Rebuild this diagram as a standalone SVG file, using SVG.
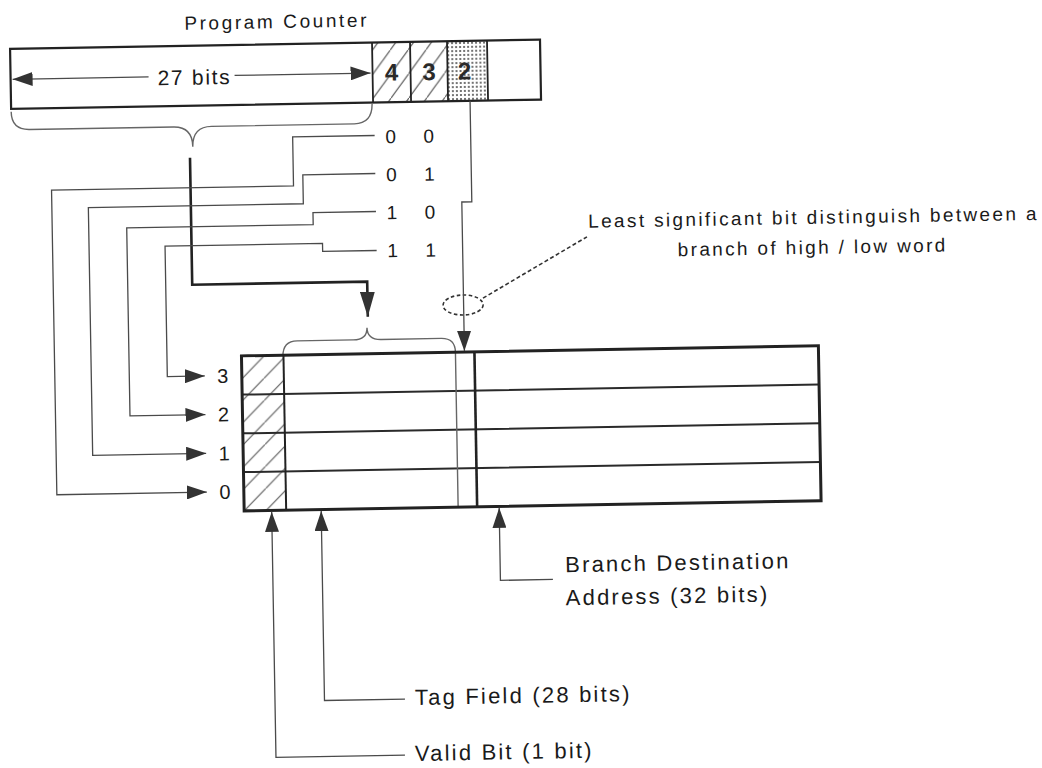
<svg xmlns="http://www.w3.org/2000/svg" width="1042" height="768" viewBox="0 0 1042 768">
<style>
  text{font-family:"Liberation Sans",Arial,Helvetica,sans-serif;fill:#1a1a1a}
  .lbl{font-size:22px;letter-spacing:2.2px}
  .digit{font-size:19px;text-anchor:middle}
  .row{font-size:20px;text-anchor:middle}
  .cellnum{font-size:24px;text-anchor:middle;font-weight:bold;fill:#2a2a2a}
  .thin{fill:none;stroke:#4a4a4a;stroke-width:1.3}
  .brace{fill:none;stroke:#666;stroke-width:1.4}
  .thick{fill:none;stroke:#222;stroke-width:2.6}
  .box{fill:none;stroke:#222;stroke-width:2.2}
  .tbl{fill:none;stroke:#222;stroke-width:3}
  .rowline{stroke:#2a2a2a;stroke-width:2}
</style>
<defs>
  <marker id="ah" markerUnits="userSpaceOnUse" markerWidth="20" markerHeight="14" refX="20" refY="7" orient="auto" viewBox="0 0 20 14">
    <path d="M0,0 L20,7 L0,14 z" fill="#333"/>
  </marker>
  <marker id="ahBig" markerUnits="userSpaceOnUse" markerWidth="25" markerHeight="15" refX="25" refY="7.5" orient="auto" viewBox="0 0 25 15">
    <path d="M0,0 L25,7.5 L0,15 z" fill="#333"/>
  </marker>
  <pattern id="hatchPC" patternUnits="userSpaceOnUse" width="18" height="24">
    <path d="M-1,25.33 L19,-1.33" stroke="#555" stroke-width="1.1"/>
  </pattern>
  <pattern id="hatchT" patternUnits="userSpaceOnUse" width="22" height="22">
    <path d="M-1,23 L23,-1" stroke="#555" stroke-width="1.1"/>
  </pattern>
  <pattern id="dots" patternUnits="userSpaceOnUse" width="4" height="4">
    <rect width="4" height="4" fill="#fff"/>
    <circle cx="2" cy="2" r="1" fill="#444"/>
  </pattern>
</defs>
<rect width="1042" height="768" fill="#fff"/>
<g transform="rotate(-1 521 384)">

  <g id="program-counter">
    <text x="283" y="24" style="font-size:19px;letter-spacing:2.6px" text-anchor="middle">Program Counter</text>
    <rect x="16" y="40" width="530" height="60" fill="#fff"/>
    <rect x="378" y="40" width="38" height="60" fill="url(#hatchPC)"/>
    <rect x="416" y="40" width="37" height="60" fill="url(#hatchPC)"/>
    <rect x="453" y="40" width="40" height="60" fill="url(#dots)"/>
    <rect class="box" x="16" y="40" width="530" height="60"/>
    <path d="M378,40 V100 M416,40 V100 M453,40 V100 M493,40 V100" stroke="#222" stroke-width="1.8"/>
    <text class="cellnum" x="397" y="78.5">4</text>
    <text class="cellnum" x="434.5" y="78.5">3</text>
    <text class="cellnum" x="470" y="78.5">2</text>
    <text x="163" y="79" style="font-size:21px;letter-spacing:1.7px">27 bits</text>
    <path class="thin" d="M154,70.5 H18" marker-end="url(#ah)"/>
    <path class="thin" d="M240,70.5 H376" marker-end="url(#ah)"/>
    <path class="brace" d="M16,103 Q16,121 34,121 L178,121 Q197,121 197,141 Q197,121 216,121 L359,121 Q377,121 377,101"/>
  </g>

  <g id="index-decoder">
    <text class="digit" x="395" y="141">0</text><text class="digit" x="433" y="141">0</text>
    <text class="digit" x="395" y="179">0</text><text class="digit" x="433" y="179">1</text>
    <text class="digit" x="395" y="217">1</text><text class="digit" x="433" y="217">0</text>
    <text class="digit" x="395" y="255">1</text><text class="digit" x="433" y="255">1</text>
  </g>

  <g id="btb-table">
    <rect x="242" y="351" width="577" height="155" fill="#fff"/>
    <rect x="242" y="351" width="42" height="155" fill="url(#hatchT)"/>
    <path class="rowline" d="M242,389.75 H819 M242,428.5 H819 M242,467.25 H819"/>
    <path d="M284,351 V506" stroke="#222" stroke-width="2"/>
    <path d="M475,351 V506" stroke="#222" stroke-width="2.6"/>
    <path class="brace" d="M283.5,352 Q283.5,337 298,337 L354,337 Q368,337 368,325 Q368,337 382,337 L442,337 Q456,337 456,351 L456,506"/>
    <rect class="tbl" x="242" y="351" width="577" height="155"/>
    <text class="row" x="223" y="377.6">3</text>
    <text class="row" x="223" y="416.3">2</text>
    <text class="row" x="223" y="455.1">1</text>
    <text class="row" x="223" y="493.8">0</text>
  </g>

  <g id="lsb-note">
    <ellipse cx="464.5" cy="304" rx="20" ry="10" fill="none" stroke="#333" stroke-width="1.6" stroke-dasharray="3.5 2.5"/>
    <path d="M484.5,297.5 L589.5,238" fill="none" stroke="#333" stroke-width="1.6" stroke-dasharray="4 2.5"/>
    <text x="591" y="229" style="font-size:19px;letter-spacing:2.35px">Least significant bit distinguish between a</text>
    <text x="815" y="259" text-anchor="middle" style="font-size:19px;letter-spacing:2.35px">branch of high / low word</text>
  </g>

  <g id="label-branch">
    <text class="lbl" x="562" y="573">Branch Destination</text>
    <text class="lbl" x="562" y="606">Address (32 bits)</text>
  </g>
  <g id="label-tag">
    <text class="lbl" x="409.5" y="703">Tag Field (28 bits)</text>
  </g>
  <g id="label-valid">
    <text class="lbl" x="408.5" y="759">Valid Bit (1 bit)</text>
  </g>

  <g id="connectors">
    <path class="thick" d="M194,152 V279 H369 V314" marker-end="url(#ahBig)"/>
    <path class="thin" d="M379,133 H297 V182 H55 V486.6 H205" marker-end="url(#ah)"/>
    <path class="thin" d="M379,171 H306.5 V200 H91.5 V447.9 H205" marker-end="url(#ah)"/>
    <path class="thin" d="M379,209 H316 V221 H129.5 V409.1 H205" marker-end="url(#ah)"/>
    <path class="thin" d="M379,248 H325 V240 H167.5 V370.4 H205" marker-end="url(#ah)"/>
    <path class="thin" d="M475,100 V201 H465 V350" marker-end="url(#ah)"/>
    <path class="thin" d="M549.5,580 H497 V507.5" marker-end="url(#ah)"/>
    <path class="thin" d="M399.5,697 H319 V507.5" marker-end="url(#ah)"/>
    <path class="thin" d="M398.5,753 H269.5 V507.5" marker-end="url(#ah)"/>
  </g>
</g>
</svg>
